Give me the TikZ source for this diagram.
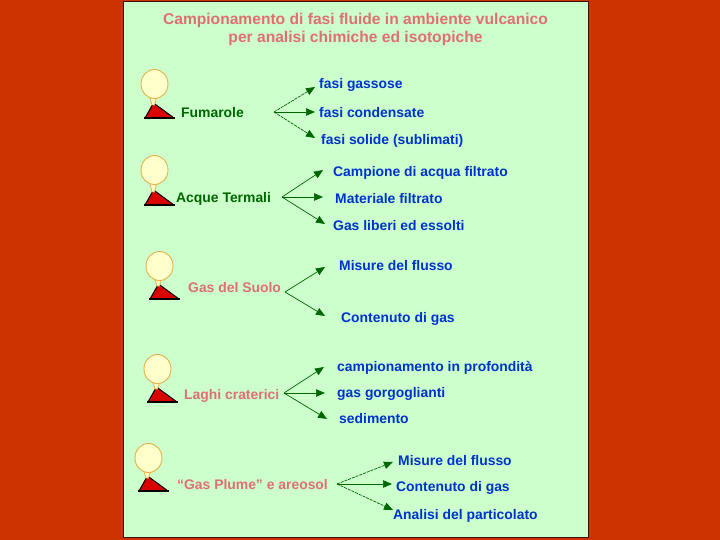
\documentclass[tikz,border=0pt]{standalone}
\usepackage{fontspec}
\setmainfont{Liberation Sans}
\usetikzlibrary{arrows.meta}
\definecolor{bgred}{RGB}{204,51,0}
\definecolor{panel}{RGB}{204,255,204}
\definecolor{titlepink}{RGB}{224,112,112}
\definecolor{darkgreen}{RGB}{0,102,0}
\definecolor{outblue}{RGB}{0,51,204}
\definecolor{cloudfill}{RGB}{255,255,204}
\definecolor{cloudline}{RGB}{232,176,72}
\tikzset{
  x=1pt,y=-1pt,
  titletext/.style={font=\fontsize{15.6}{18}\selectfont\bfseries,text=titlepink,align=center,inner sep=0pt},
  srcpink/.style={font=\fontsize{13.9}{15}\selectfont\bfseries,text=titlepink,inner sep=0pt,anchor=west},
  srcgreen/.style={font=\fontsize{13.9}{15}\selectfont\bfseries,text=darkgreen,inner sep=0pt,anchor=west},
  outtext/.style={font=\fontsize{13.9}{15}\selectfont\bfseries,text=outblue,inner sep=0pt,anchor=west},
  link/.style={draw=darkgreen,line width=0.7pt,-{Triangle[length=9pt,width=7.5pt]}},
  dlink/.style={link,dash pattern=on 3pt off 1pt},
}
\newcommand{\volcano}[3]{%
  \begin{scope}[shift={(#1,#2)}]
    \fill[red!85!black] (1,0) -- (9.5,-15) -- (30,0) -- cycle;
    \draw[black,line width=1.3pt] (0,0) -- (31,0);
    \draw[black,line width=1pt] (1,0) -- (9.5,-15) -- (30,0);
    \draw[draw=cloudline,fill=cloudfill,line width=0.8pt] (5.5,-#3+12) -- (8,-13) -- (10.5,-13) -- (13,-#3+12) -- cycle;
    \draw[draw=cloudline,fill=cloudfill,line width=0.9pt] (10.5,-#3) ellipse (13.5 and 14.5);
  \end{scope}}
\begin{document}
\begin{tikzpicture}
\useasboundingbox (0,0) rectangle (720,540);
\fill[bgred] (0,0) rectangle (720,540);
\fill[panel] (123,1) rectangle (588,537);
\draw[black!70!bgred,line width=0.8pt] (123,1) rectangle (588,537);
\node[titletext] (title) at (355.5,29.5) {Campionamento di fasi fluide in ambiente vulcanico\\per analisi chimiche ed isotopiche};

\volcano{144}{118}{34}
\volcano{144}{205}{35}
\volcano{149}{299}{33}
\volcano{147}{402}{33}
\volcano{138}{491}{33}

\node[srcgreen] (s1) at (181,113) {Fumarole};
\node[srcgreen] (s2) at (176,199) {Acque Termali};
\node[srcpink] (s3) at (188,288) {Gas del Suolo};
\node[srcpink] (s4) at (184,396) {Laghi craterici};
\node[srcpink] (s5) at (177,485) {“Gas Plume” e areosol};

\coordinate (j1) at (274,112);
\coordinate (j2) at (282,197);
\coordinate (j3) at (285,292);
\coordinate (j4) at (284,393);
\coordinate (j5) at (337,484);

\node[outtext] (a1) at (319,85) {fasi gassose};
\node[outtext] (a2) at (319,113) {fasi condensate};
\node[outtext] (a3) at (321,141) {fasi solide (sublimati)};
\node[outtext] (b1) at (333,173) {Campione di acqua filtrato};
\node[outtext] (b2) at (335,199) {Materiale filtrato};
\node[outtext] (b3) at (333,226) {Gas liberi ed essolti};
\node[outtext] (c1) at (339,266) {Misure del flusso};
\node[outtext] (c2) at (341,319) {Contenuto di gas};
\node[outtext] (d1) at (337,368) {campionamento in profondità};
\node[outtext] (d2) at (337,394) {gas gorgoglianti};
\node[outtext] (d3) at (339,419) {sedimento};
\node[outtext] (e1) at (398,461) {Misure del flusso};
\node[outtext] (e2) at (396,488) {Contenuto di gas};
\node[outtext] (e3) at (393,516) {Analisi del particolato};

\coordinate (ta1) at (315,87);
\coordinate (ta2) at (315,112);
\coordinate (ta3) at (315,138);
\coordinate (tb1) at (323,170);
\coordinate (tb2) at (323,197);
\coordinate (tb3) at (325,224);
\coordinate (tc1) at (325,267);
\coordinate (tc2) at (325,316);
\coordinate (td1) at (324,367);
\coordinate (td2) at (325,393);
\coordinate (td3) at (327,419);
\coordinate (te1) at (393,462);
\coordinate (te2) at (392,484);
\coordinate (te3) at (393,510);

\draw[dlink] (j1) -- (ta1);
\draw[link] (j1) -- (ta2);
\draw[dlink] (j1) -- (ta3);
\draw[link] (j2) -- (tb1);
\draw[link] (j2) -- (tb2);
\draw[link] (j2) -- (tb3);
\draw[link] (j3) -- (tc1);
\draw[link] (j3) -- (tc2);
\draw[link] (j4) -- (td1);
\draw[link] (j4) -- (td2);
\draw[link] (j4) -- (td3);
\draw[dlink] (j5) -- (te1);
\draw[link] (j5) -- (te2);
\draw[dlink] (j5) -- (te3);
\end{tikzpicture}
\end{document}
